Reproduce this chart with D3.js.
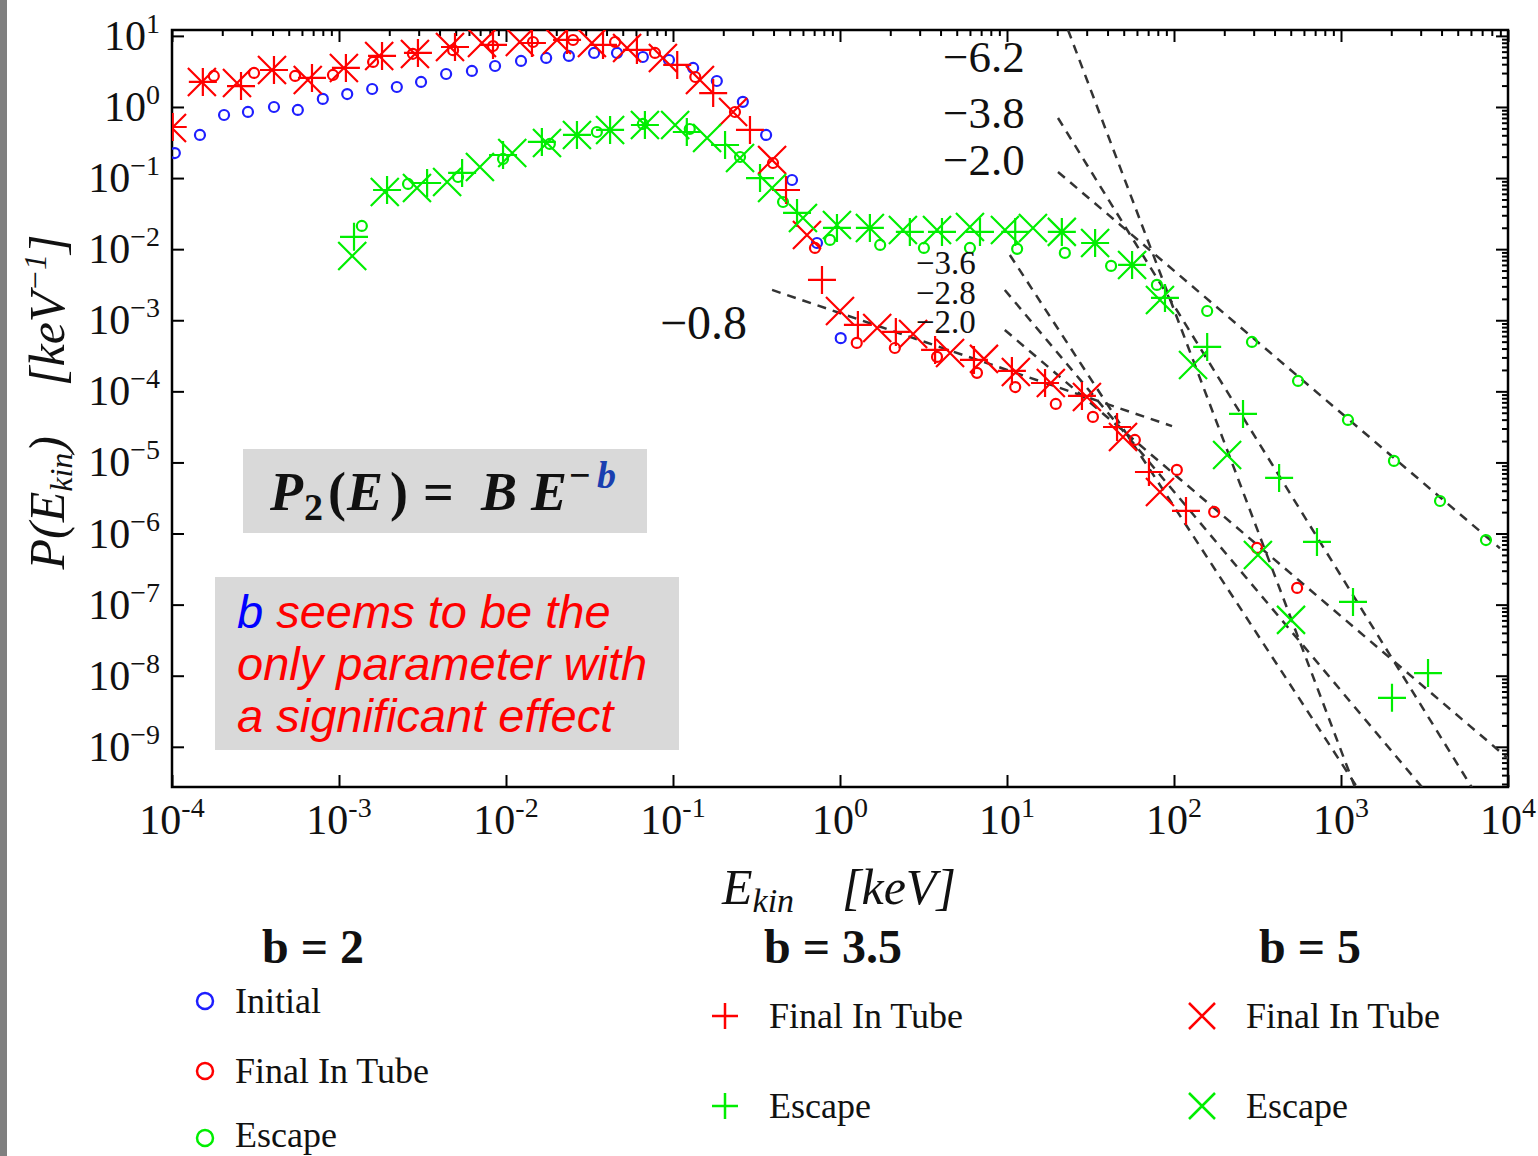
<!DOCTYPE html>
<html>
<head>
<meta charset="utf-8">
<script src="https://cdn.jsdelivr.net/npm/d3@7"></script>
<style>
    body { margin: 0; background: #fff; }
    svg { display: block; }
</style>
</head>
<body>
<script>
// ---- data: [E (keV), P (keV^-1)] ----
const b2Initial = [
    [1.04e-4, 0.225], [1.47e-4, 0.404], [2.05e-4, 0.771], [2.85e-4, 0.851], [4.08e-4, 1.0],
    [5.67e-4, 0.908], [8.0e-4, 1.30], [1.12e-3, 1.52], [1.58e-3, 1.79], [2.22e-3, 1.91],
    [3.1e-3, 2.25], [4.38e-3, 2.91], [6.25e-3, 3.21], [8.6e-3, 3.77], [1.23e-2, 4.44],
    [1.74e-2, 4.89], [2.38e-2, 5.22], [3.37e-2, 5.75], [4.62e-2, 5.75], [6.6e-2, 5.05],
    [9.46e-2, 4.58], [0.132, 3.54], [0.183, 2.32], [0.262, 1.18], [0.361, 0.404],
    [0.516, 0.094], [0.728, 0.0122], [1.01, 5.6e-4]
];
const b2Final = [
    [1.78e-4, 2.73], [3.10e-4, 3.01], [5.46e-4, 2.73], [9.2e-4, 2.82], [1.6e-3, 4.3],
    [2.77e-3, 5.6], [4.82e-3, 6.3], [8.36e-3, 7.2], [1.45e-2, 8.2], [2.52e-2, 8.75],
    [4.5e-2, 8.2], [7.8e-2, 5.75], [0.136, 2.64], [0.235, 0.85], [0.397, 0.163],
    [0.708, 0.0104], [1.26, 4.8e-4], [2.13, 4.07e-4], [3.81, 3.05e-4], [6.61, 1.82e-4],
    [11.2, 1.15e-4], [19.6, 6.65e-5], [32.7, 4.37e-5], [58.3, 2.07e-5], [104, 7.85e-6],
    [174, 2.01e-6], [314, 6.27e-7], [546, 1.72e-7]
];
const b2Escape = [
    [1.37e-3, 0.0212], [2.59e-3, 0.0826], [5.16e-3, 0.1036], [9.6e-3, 0.186], [1.83e-2, 0.302],
    [3.5e-2, 0.445], [6.6e-2, 0.577], [0.126, 0.49], [0.252, 0.198], [0.456, 0.0461],
    [0.871, 0.0135], [1.74, 0.01146], [3.18, 0.0104], [6.0, 0.0104], [11.5, 0.0101],
    [22.2, 0.00885], [42, 0.00581], [79, 0.00314], [158, 0.00135], [293, 4.95e-4],
    [553, 1.40e-4], [1101, 3.96e-5], [2075, 1.05e-5], [3917, 2.87e-6], [7380, 8.1e-7]
];
const b35Final = [
    [1.01e-4, 0.523], [1.53e-4, 2.25], [2.59e-4, 1.97], [4.08e-4, 3.31], [6.89e-4, 2.56],
    [1.10e-3, 3.54], [1.81e-3, 5.22], [2.97e-3, 5.75], [4.95e-3, 6.98], [8.36e-3, 7.45],
    [1.43e-2, 7.94], [2.32e-2, 8.76], [3.81e-2, 7.45], [6.08e-2, 6.34], [0.106, 3.90],
    [0.174, 1.57], [0.289, 0.475], [0.475, 0.068], [0.780, 3.69e-3], [1.28, 8.59e-4],
    [2.16, 6.85e-4], [3.71, 3.82e-4], [6.34, 2.77e-4], [10.7, 1.94e-4], [16.9, 1.31e-4],
    [28.1, 8.61e-5], [45.6, 3.15e-5], [70.8, 7.34e-6], [118, 2.08e-6]
];
const b35Escape = [
    [1.23e-3, 0.0149], [1.94e-3, 0.068], [3.37e-3, 0.0853], [5.46e-3, 0.118], [9.6e-3, 0.211],
    [1.64e-2, 0.322], [2.66e-2, 0.404], [4.20e-2, 0.475], [6.79e-2, 0.558], [0.121, 0.445],
    [0.205, 0.292], [0.332, 0.100], [0.553, 0.0323], [0.959, 0.0199], [1.51, 0.0199],
    [2.62, 0.0175], [4.08, 0.0175], [6.89, 0.0175], [11.2, 0.0175], [21.3, 0.0175],
    [33.7, 0.0122], [56.1, 6.0e-3], [88.3, 2.06e-3], [158, 4.21e-4], [259, 4.81e-5],
    [426, 6.05e-6], [718, 7.62e-7], [1180, 1.09e-7], [2020, 4.88e-9], [3320, 1.09e-8]
];
const b5Final = [
    [1.0e-4, 0.507], [1.51e-4, 2.25], [2.45e-4, 2.18], [3.97e-4, 3.31], [6.5e-4, 2.40],
    [1.07e-3, 3.54], [1.74e-3, 5.22], [2.85e-3, 5.56], [4.62e-3, 6.98], [7.18e-3, 7.94],
    [1.21e-2, 8.21], [2.02e-2, 8.76], [3.27e-2, 7.94], [5.31e-2, 6.76], [8.7e-2, 4.89],
    [0.145, 2.40], [0.229, 0.85], [0.392, 0.180], [0.634, 0.0158], [1.0, 1.35e-3],
    [1.67, 7.8e-4], [2.74, 6.41e-4], [4.56, 3.47e-4], [7.28, 2.86e-4], [11.3, 1.87e-4],
    [18.3, 1.31e-4], [30.1, 8.34e-5], [49.5, 2.28e-5], [82.4, 3.85e-6]
];
const b5Escape = [
    [1.20e-3, 8.02e-3], [1.88e-3, 0.0637], [2.93e-3, 0.0726], [4.44e-3, 0.0882], [6.98e-3, 0.143],
    [1.09e-2, 0.225], [1.76e-2, 0.312], [2.66e-2, 0.404], [4.20e-2, 0.475], [6.79e-2, 0.558],
    [0.103, 0.558], [0.160, 0.366], [0.252, 0.192], [0.392, 0.0726], [0.600, 0.0275],
    [0.959, 0.0219], [1.51, 0.0199], [2.38, 0.0186], [3.81, 0.0186], [6.0, 0.0205],
    [9.72, 0.0186], [14.3, 0.0199], [21.3, 0.0175], [33.7, 0.0122], [56.1, 6.0e-3],
    [82.4, 1.93e-3], [130, 2.35e-4], [208, 1.27e-5], [318, 5.0e-7], [502, 6.1e-8]
];

// power-law fits P = p0 * (E/e0)^-b, drawn from e0 to e1
const fitLines = [
    { b: 6.2, e0: 23.2, p0: 12.1, e1: 3000 },
    { b: 3.8, e0: 20.2, p0: 0.70, e1: 1e4 },
    { b: 2.0, e0: 20.2, p0: 0.122, e1: 8950 },
    { b: 3.6, e0: 10.4, p0: 0.00828, e1: 1e4 },
    { b: 2.8, e0: 9.7, p0: 0.00267, e1: 1e4 },
    { b: 2.0, e0: 9.7, p0: 7.3e-4, e1: 1e4 },
    { b: 0.8, e0: 0.392, p0: 0.00267, e1: 97.3 }
];

const xTickExps = [-4, -3, -2, -1, 0, 1, 2, 3, 4];
const yTickExps = [1, 0, -1, -2, -3, -4, -5, -6, -7, -8, -9];

const colors = { blue: '#1e1eff', red: '#ff0000', green: '#00ee00' };

// ---- layout ----
const W = 1538, H = 1156;
const plot = { left: 172, right: 1508, top: 30, bottom: 787 };
const serif = '"Liberation Serif", "Times New Roman", serif';

const svg = d3.select('body').append('svg')
    .attr('width', W)
    .attr('height', H);

svg.append('rect').attr('width', W).attr('height', H).attr('fill', '#fff');
svg.append('rect').attr('width', 7).attr('height', H).attr('fill', '#7f7f7f');

const x = d3.scaleLog().domain([1e-4, 1e4]).range([plot.left, plot.right]);
const y = d3.scaleLog().domain([12.1, 2.72e-10]).range([plot.top, plot.bottom]);

svg.append('defs').append('clipPath').attr('id', 'plotClip')
    .append('rect')
    .attr('x', plot.left).attr('y', plot.top)
    .attr('width', plot.right - plot.left).attr('height', plot.bottom - plot.top);

// ---- axes ----
const majorX = xTickExps.map(e => Math.pow(10, e));
const majorY = yTickExps.map(e => Math.pow(10, e));
const minorX = [], minorY = [];
xTickExps.slice(0, -1).forEach(e => d3.range(2, 10).forEach(m => minorX.push(m * Math.pow(10, e))));
yTickExps.forEach(e => d3.range(2, 10).forEach(m => {
    const v = m * Math.pow(10, e - 1);
    if (v > 2.72e-10 && v < 12.1) minorY.push(v);
}));

function addAxis(axis, transform) {
    const g = svg.append('g').attr('transform', transform).call(axis);
    g.select('.domain').remove();
    g.selectAll('line').attr('stroke', '#000').attr('stroke-width', 2);
    g.selectAll('text').remove();
    return g;
}

addAxis(d3.axisBottom(x).tickValues(majorX).tickSize(-12), `translate(0,${plot.bottom})`);
addAxis(d3.axisLeft(y).tickValues(majorY).tickSize(-12), `translate(${plot.left},0)`);
addAxis(d3.axisTop(x).tickValues(majorX).tickSize(-12), `translate(0,${plot.top})`);
addAxis(d3.axisTop(x).tickValues(minorX).tickSize(-6), `translate(0,${plot.top})`);
addAxis(d3.axisRight(y).tickValues(majorY).tickSize(-12), `translate(${plot.right},0)`);
addAxis(d3.axisRight(y).tickValues(minorY).tickSize(-6), `translate(${plot.right},0)`);

svg.append('rect')
    .attr('x', plot.left).attr('y', plot.top)
    .attr('width', plot.right - plot.left).attr('height', plot.bottom - plot.top)
    .attr('fill', 'none').attr('stroke', '#000').attr('stroke-width', 2.5);

// tick labels: 10 with superscript exponent
xTickExps.forEach(e => {
    const t = svg.append('text')
        .attr('x', x(Math.pow(10, e))).attr('y', 834)
        .attr('text-anchor', 'middle')
        .attr('font-family', serif).attr('font-size', 42).attr('fill', '#111');
    t.append('tspan').text('10');
    t.append('tspan').attr('dy', -17).attr('font-size', 28).text(e < 0 ? '-' + Math.abs(e) : e);
});
yTickExps.forEach(e => {
    const t = svg.append('text')
        .attr('x', 160).attr('y', y(Math.pow(10, e)) + 14)
        .attr('text-anchor', 'end')
        .attr('font-family', serif).attr('font-size', 42).attr('fill', '#111');
    t.append('tspan').text('10');
    t.append('tspan').attr('dy', -17).attr('font-size', 28).text(e < 0 ? '\u2212' + Math.abs(e) : e);
});

// axis titles
const xt = svg.append('text')
    .attr('x', 722).attr('y', 904)
    .attr('font-family', serif).attr('font-style', 'italic').attr('font-size', 50).attr('fill', '#111');
xt.append('tspan').text('E');
xt.append('tspan').attr('dy', 8).attr('font-size', 34).text('kin');
xt.append('tspan').attr('x', 842).attr('dy', -8).text('[keV]');

const yt = svg.append('text')
    .attr('transform', 'translate(64,402) rotate(-90)')
    .attr('text-anchor', 'middle')
    .attr('font-family', serif).attr('font-style', 'italic').attr('font-size', 50).attr('fill', '#111');
yt.append('tspan').text('P(E');
yt.append('tspan').attr('dy', 8).attr('font-size', 32).text('kin');
yt.append('tspan').attr('dy', -8).text(')\u2003[keV');
yt.append('tspan').attr('dy', -18).attr('font-size', 32).text('\u22121');
yt.append('tspan').attr('dy', 18).text(']');

// ---- fit lines ----
const plotG = svg.append('g').attr('clip-path', 'url(#plotClip)');
const line = d3.line().x(d => x(d[0])).y(d => y(d[1]));

plotG.selectAll('path.fit')
    .data(fitLines)
    .enter()
    .append('path')
    .attr('class', 'fit')
    .attr('d', d => line([[d.e0, d.p0], [d.e1, d.p0 * Math.pow(d.e1 / d.e0, -d.b)]]))
    .attr('fill', 'none')
    .attr('stroke', '#333')
    .attr('stroke-width', 2.5)
    .attr('stroke-dasharray', '9,7');

// ---- markers ----
function markerPath(shape, s) {
    if (shape === 'plus') return `M${-s},0H${s}M0,${-s}V${s}`;
    if (shape === 'cross') return `M${-s},${-s}L${s},${s}M${-s},${s}L${s},${-s}`;
    return '';
}

function drawSeries(data, shape, color) {
    const g = plotG.append('g');
    if (shape === 'circle') {
        g.selectAll('circle').data(data).enter().append('circle')
            .attr('cx', d => x(d[0])).attr('cy', d => y(d[1])).attr('r', 5)
            .attr('fill', 'none').attr('stroke', color).attr('stroke-width', 2.2);
    } else {
        g.selectAll('path').data(data).enter().append('path')
            .attr('transform', d => `translate(${x(d[0])},${y(d[1])})`)
            .attr('d', markerPath(shape, 14))
            .attr('fill', 'none').attr('stroke', color).attr('stroke-width', 2.2);
    }
}

drawSeries(b2Initial, 'circle', colors.blue);
drawSeries(b2Final, 'circle', colors.red);
drawSeries(b2Escape, 'circle', colors.green);
drawSeries(b35Final, 'plus', colors.red);
drawSeries(b35Escape, 'plus', colors.green);
drawSeries(b5Final, 'cross', colors.red);
drawSeries(b5Escape, 'cross', colors.green);

// ---- fit slope labels ----
const slopeLabels = [
    { t: '\u22126.2', x: 943, y: 72, size: 45 },
    { t: '\u22123.8', x: 943, y: 128, size: 45 },
    { t: '\u22122.0', x: 943, y: 175, size: 45 },
    { t: '\u22123.6', x: 916, y: 274, size: 33 },
    { t: '\u22122.8', x: 916, y: 304, size: 33 },
    { t: '\u22122.0', x: 916, y: 333, size: 33 },
    { t: '\u22120.8', x: 660, y: 339, size: 48 }
];
svg.selectAll('text.slope')
    .data(slopeLabels)
    .enter()
    .append('text')
    .attr('class', 'slope')
    .attr('x', d => d.x).attr('y', d => d.y)
    .attr('font-family', serif).attr('font-size', d => d.size).attr('fill', '#111')
    .text(d => d.t);

// ---- formula box ----
svg.append('rect').attr('x', 243).attr('y', 449).attr('width', 404).attr('height', 84).attr('fill', '#d9d9d9');
const f = svg.append('text')
    .attr('y', 510)
    .attr('font-family', serif).attr('font-weight', 'bold').attr('font-size', 54).attr('fill', '#111');
f.append('tspan').attr('x', 270).attr('font-style', 'italic').text('P');
f.append('tspan').attr('x', 304).attr('dy', 10).attr('font-size', 38).text('2');
f.append('tspan').attr('x', 328).attr('dy', -10).text('(');
f.append('tspan').attr('x', 347).attr('font-style', 'italic').text('E');
f.append('tspan').attr('x', 390).text(')');
f.append('tspan').attr('x', 423).text('=');
f.append('tspan').attr('x', 481).attr('font-style', 'italic').text('B');
f.append('tspan').attr('x', 531).attr('font-style', 'italic').text('E');
f.append('tspan').attr('x', 569).attr('dy', -22).attr('font-size', 38).text('\u2212');
f.append('tspan').attr('x', 597).attr('font-size', 38).attr('font-style', 'italic').attr('fill', '#1a3fb0').text('b');

// ---- note box ----
svg.append('rect').attr('x', 215).attr('y', 577).attr('width', 464).attr('height', 173).attr('fill', '#d9d9d9');
const noteLines = [['b', ' seems to be the'], ['', 'only parameter with'], ['', 'a significant effect']];
noteLines.forEach((l, i) => {
    const t = svg.append('text')
        .attr('x', 237).attr('y', 628 + i * 52)
        .attr('font-family', '"Liberation Sans", Arial, sans-serif')
        .attr('font-style', 'italic').attr('font-size', 47).attr('fill', '#ff0000');
    if (l[0]) t.append('tspan').attr('fill', '#0000ff').text(l[0]);
    t.append('tspan').text(l[1]);
});

// ---- legend ----
const legendHeads = [
    { t: 'b = 2', x: 313 },
    { t: 'b = 3.5', x: 833 },
    { t: 'b = 5', x: 1310 }
];
svg.selectAll('text.lhead')
    .data(legendHeads)
    .enter()
    .append('text')
    .attr('class', 'lhead')
    .attr('x', d => d.x).attr('y', 963)
    .attr('text-anchor', 'middle')
    .attr('font-family', serif).attr('font-weight', 'bold').attr('font-size', 48).attr('fill', '#111')
    .text(d => d.t);

const legendItems = [
    { shape: 'circle', color: colors.blue, label: 'Initial', mx: 205, my: 1001 },
    { shape: 'circle', color: colors.red, label: 'Final In Tube', mx: 205, my: 1071 },
    { shape: 'circle', color: colors.green, label: 'Escape', mx: 205, my: 1138 },
    { shape: 'plus', color: colors.red, label: 'Final In Tube', mx: 725, my: 1016 },
    { shape: 'plus', color: colors.green, label: 'Escape', mx: 725, my: 1106 },
    { shape: 'cross', color: colors.red, label: 'Final In Tube', mx: 1202, my: 1016 },
    { shape: 'cross', color: colors.green, label: 'Escape', mx: 1202, my: 1106 }
];
const li = svg.selectAll('g.litem')
    .data(legendItems)
    .enter()
    .append('g')
    .attr('class', 'litem')
    .attr('transform', d => `translate(${d.mx},${d.my})`);
li.filter(d => d.shape === 'circle').append('circle')
    .attr('r', 8).attr('fill', 'none').attr('stroke', d => d.color).attr('stroke-width', 2.5);
li.filter(d => d.shape !== 'circle').append('path')
    .attr('d', d => markerPath(d.shape, 13))
    .attr('fill', 'none').attr('stroke', d => d.color).attr('stroke-width', 2.5);
li.append('text')
    .attr('x', d => d.shape === 'circle' ? 30 : 44).attr('y', d => d.my > 1130 ? 9 : 12)
    .attr('font-family', serif).attr('font-size', 36).attr('fill', '#111')
    .text(d => d.label);
</script>
</body>
</html>
